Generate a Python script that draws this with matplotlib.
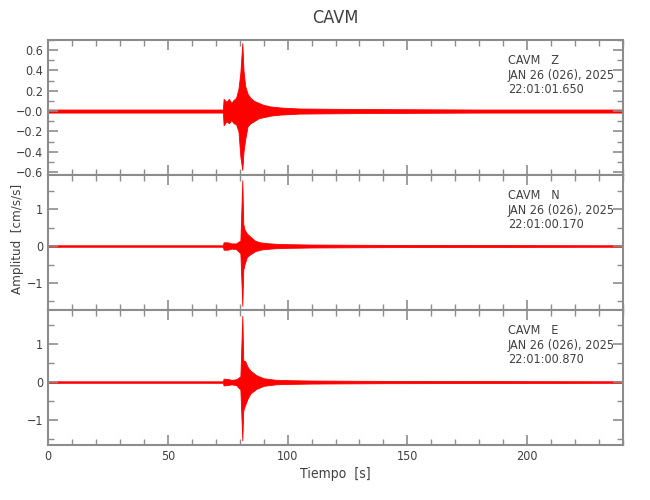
import matplotlib
matplotlib.use("Agg")
import matplotlib.pyplot as plt
from matplotlib.ticker import MultipleLocator, FixedLocator
import numpy as np

plt.rcParams['font.family'] = ['DejaVu Sans']
plt.rcParams['font.stretch'] = 'condensed'

# envelope of each trace (time [s], upper, lower)
t_z = [0, 73.0, 73.3, 74.5, 75.5, 76.5, 77.5, 78.5, 79.5, 80.3, 81.1, 81.6, 82.3, 83.3, 84.5, 86, 88, 90, 93, 97, 105, 130, 180, 240]
up_z = [0.015, 0.015, 0.12, 0.09, 0.12, 0.08, 0.11, 0.13, 0.22, 0.38, 0.67, 0.40, 0.25, 0.17, 0.13, 0.10, 0.08, 0.06, 0.045, 0.035, 0.025, 0.02, 0.015, 0.015]
lo_z = [-0.015, -0.015, -0.14, -0.10, -0.12, -0.09, -0.12, -0.13, -0.20, -0.45, -0.58, -0.40, -0.28, -0.15, -0.12, -0.10, -0.07, -0.06, -0.045, -0.035, -0.025, -0.02, -0.015, -0.015]

t_n = [0, 73.0, 73.3, 75, 76.5, 78.5, 80.3, 81.1, 81.5, 82, 83, 84.5, 86.5, 88.5, 91, 95, 100, 110, 140, 240]
up_n = [0.02, 0.02, 0.10, 0.10, 0.07, 0.07, 0.15, 1.78, 0.60, 0.45, 0.34, 0.25, 0.14, 0.10, 0.08, 0.06, 0.05, 0.04, 0.03, 0.02]
lo_n = [-0.02, -0.02, -0.10, -0.10, -0.07, -0.08, -0.20, -1.62, -0.65, -0.50, -0.30, -0.22, -0.14, -0.10, -0.08, -0.06, -0.05, -0.04, -0.03, -0.02]

t_e = [0, 73.0, 73.3, 75, 76.5, 78.5, 80.3, 81.1, 81.5, 82.3, 83.3, 84.5, 87, 90, 95, 100, 110, 140, 240]
up_e = [0.02, 0.02, 0.09, 0.08, 0.06, 0.07, 0.15, 1.75, 0.57, 0.55, 0.40, 0.30, 0.18, 0.10, 0.06, 0.05, 0.04, 0.03, 0.02]
lo_e = [-0.02, -0.02, -0.09, -0.08, -0.06, -0.08, -0.20, -1.54, -0.75, -0.60, -0.44, -0.30, -0.18, -0.10, -0.06, -0.05, -0.04, -0.03, -0.02]

comps = ['Z', 'N', 'E']
horas = ['22:01:01.650', '22:01:00.170', '22:01:00.870']
fecha = 'JAN 26 (026), 2025'
estacion = 'CAVM'

traces = [(t_z, up_z, lo_z), (t_n, up_n, lo_n), (t_e, up_e, lo_e)]
ylims = [(-0.63, 0.70), (-1.73, 1.92), (-1.66, 1.90)]

gris = '#8c8c8c'
txt = '#404040'

fig = plt.figure(figsize=(6.5, 5), dpi=100)
x0, x1 = 48 / 650, 623 / 650
tops = [40, 175, 310]
h = 135
axs = []
for i in range(3):
    ax = fig.add_axes([x0, 1 - (tops[i] + h) / 500, x1 - x0, h / 500])
    axs.append(ax)
    t, up, lo = traces[i]
    ax.fill_between(t, lo, up, color='red', lw=0.6, edgecolor='red')
    ax.set_xlim(0, 240)
    ax.set_ylim(*ylims[i])
    ax.xaxis.set_major_locator(MultipleLocator(50))
    ax.xaxis.set_minor_locator(MultipleLocator(10))
    if i == 0:
        ax.yaxis.set_major_locator(FixedLocator([-0.6, -0.4, -0.2, 0.0, 0.2, 0.4, 0.6]))
        ax.yaxis.set_minor_locator(MultipleLocator(0.1))
        ax.set_yticklabels(['\u22120.6', '\u22120.4', '\u22120.2', '\u22120.0', '0.2', '0.4', '0.6'])
    else:
        ax.yaxis.set_major_locator(FixedLocator([-1, 0, 1]))
        ax.yaxis.set_minor_locator(MultipleLocator(0.5))
        ax.set_yticklabels(['\u22121', '0', '1'])
    ax.tick_params(which='both', direction='in', top=True, right=True, color=gris,
                   labelsize=9, labelcolor=txt)
    ax.tick_params(which='major', length=7, width=1.2)
    ax.tick_params(which='minor', length=4, width=1)
    for s in ax.spines.values():
        s.set_color(gris)
        s.set_linewidth(1.5)
    if i < 2:
        ax.tick_params(labelbottom=False)
    ax.text(0.8, 0.845, estacion + '   ' + comps[i], transform=ax.transAxes, fontsize=9, color=txt, va='center')
    ax.text(0.8, 0.74, fecha, transform=ax.transAxes, fontsize=9, color=txt, va='center')
    ax.text(0.8, 0.635, horas[i], transform=ax.transAxes, fontsize=9, color=txt, va='center')

axs[0].set_title(estacion, fontsize=13, color=txt, pad=12)
axs[1].set_ylabel('Amplitud  [cm/s/s]', fontsize=9.5, color=txt)
axs[1].yaxis.set_label_coords(-0.042, 0.53)
axs[2].set_xlabel('Tiempo  [s]', fontsize=10, color=txt, labelpad=3)

fig.savefig('out.png', dpi=100)
